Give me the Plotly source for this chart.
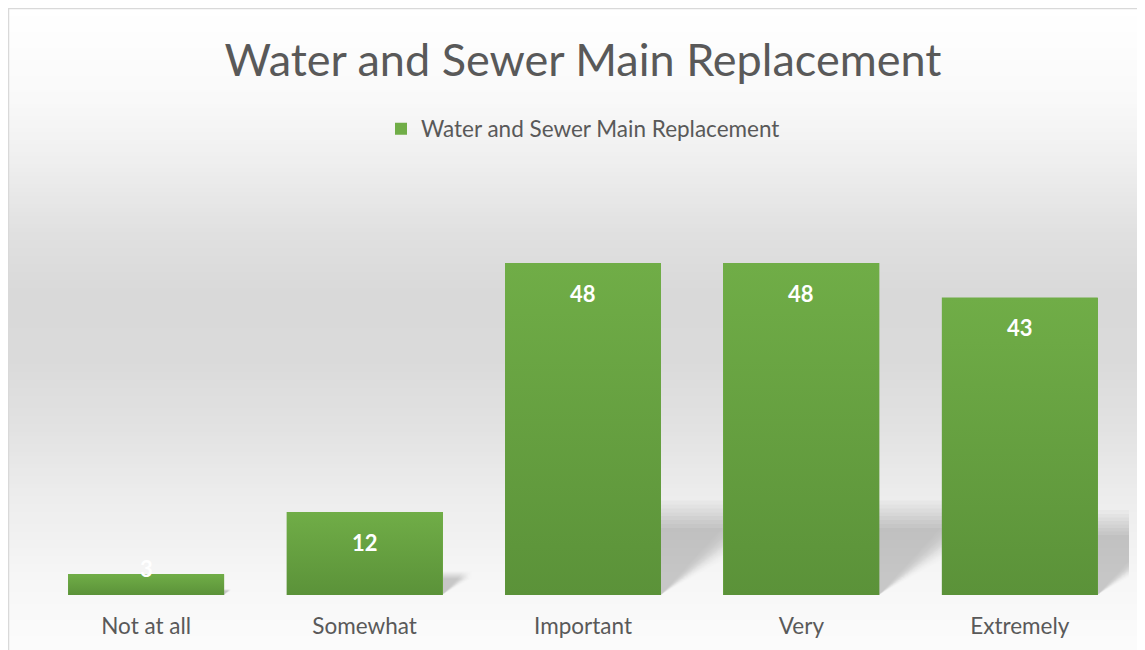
import numpy as np
import plotly.graph_objects as go

# ---- data ----
categories = ["Not at all", "Somewhat", "Important", "Very", "Extremely"]
values = [3, 12, 48, 48, 43]
series_name = "Water and Sewer Main Replacement"
chart_title = "Water and Sewer Main Replacement"

# ---- style ----
W, H = 1145, 650
ML, MR, MT, MB = 29, 24, 172, 63
PW, PH = W - ML - MR, H - MT - MB
YMAX = 60
BAR_W = 0.714
GREEN_TOP = "#70ad47"
GREEN_BOT = "#5b9239"
TXT = "#595959"
FONT = "Lato, Carlito, Calibri, sans-serif"
SHADOW_H = 0.24     # shadow height as fraction of bar value
SHADOW_DX = 0.0102  # shadow skew (category units per value unit)

def px2paper_x(px):
    return (px - ML) / PW

def px2paper_y(py):
    return (H - MB - py) / PH

x = list(range(len(categories)))
fig = go.Figure()

# bar trace (legend + base)
fig.add_trace(go.Bar(
    x=x, y=values, width=BAR_W, name=series_name,
    marker=dict(color=GREEN_TOP, line=dict(width=0)),
    showlegend=True, hoverinfo="x+y",
))

# gradient overlay for each bar, drawn through the same axes
for i, v in zip(x, values):
    x0, x1 = i - BAR_W / 2, i + BAR_W / 2
    fig.add_trace(go.Scatter(
        x=[x0, x1, x1, x0, x0], y=[0, 0, v, v, 0],
        mode="lines", line=dict(width=0), fill="toself",
        fillgradient=dict(type="vertical", start=0, stop=v,
                          colorscale=[[0, GREEN_BOT], [1, GREEN_TOP]]),
        showlegend=False, hoverinfo="skip",
    ))

shapes = []
# background gradient (figure frame)
stops_py = [0, 92, 152, 222, 285, 352, 419, 485, 552, 587, 650]
stops_g = [255, 249, 239, 225, 217, 218, 226, 236, 244, 248, 252]
step = 4
for py in range(0, H, step):
    g = int(round(np.interp(py + step / 2, stops_py, stops_g)))
    col = f"rgb({g},{g},{g})"
    shapes.append(dict(type="rect", xref="paper", yref="paper", layer="below",
                       x0=px2paper_x(0), x1=px2paper_x(W + 5),
                       y0=px2paper_y(py + step + 0.5), y1=px2paper_y(py),
                       fillcolor=col, line=dict(width=0)))
# frame border
shapes.append(dict(type="rect", xref="paper", yref="paper", layer="below",
                   x0=px2paper_x(0.5), x1=px2paper_x(W + 5),
                   y0=px2paper_y(H + 5), y1=px2paper_y(0.5),
                   fillcolor="rgba(0,0,0,0)", line=dict(color="#d9d9d9", width=1.5)))

# soft perspective shadows behind bars
for i, v in zip(x, values):
    x0, x1 = i - BAR_W / 2, i + BAR_W / 2
    for sh in [0.84, 0.89, 0.94, 0.99, 1.04, 1.09, 1.14, 1.19]:
        for sd in [0.82, 0.97, 1.12]:
            hs = v * SHADOW_H * sh
            dx = v * SHADOW_DX * sd
            path = (f"M {x0},0 L {x1},0 L {x1 + dx},{hs} L {x0 + dx},{hs} Z")
            shapes.append(dict(type="path", xref="x", yref="y", layer="below",
                               path=path, fillcolor="rgba(0,0,0,0.009)",
                               line=dict(width=0)))

# data labels
annotations = []
for i, v in zip(x, values):
    shift = -30 if v >= 10 else 6
    annotations.append(dict(x=i, y=v, xref="x", yref="y", text=str(v),
                            showarrow=False, yanchor="middle", yshift=shift,
                            font=dict(family=FONT, size=22, color="white", weight="bold")))

fig.update_layout(
    width=W, height=H,
    margin=dict(l=ML, r=MR, t=MT, b=MB),
    paper_bgcolor="white", plot_bgcolor="rgba(0,0,0,0)",
    title=dict(text=chart_title, x=0.5, xref="paper", xanchor="center",
               y=1 - 52 / H, yref="container", yanchor="middle",
               font=dict(family=FONT, size=45, color=TXT)),
    legend=dict(orientation="h", x=0.5, xanchor="center",
                y=px2paper_y(121), yanchor="middle",
                font=dict(family=FONT, size=22.5, color=TXT),
                bgcolor="rgba(0,0,0,0)", itemwidth=30),
    xaxis=dict(range=[-0.5, len(categories) - 0.5], tickvals=x, ticktext=categories,
               showgrid=False, zeroline=False, showline=False,
               ticks="", ticklabelstandoff=15,
               tickfont=dict(family=FONT, size=22.5, color=TXT),
               fixedrange=True),
    yaxis=dict(range=[0, YMAX], visible=False, fixedrange=True),
    shapes=shapes, annotations=annotations,
    bargap=0,
)

fig.write_html("out.html")
